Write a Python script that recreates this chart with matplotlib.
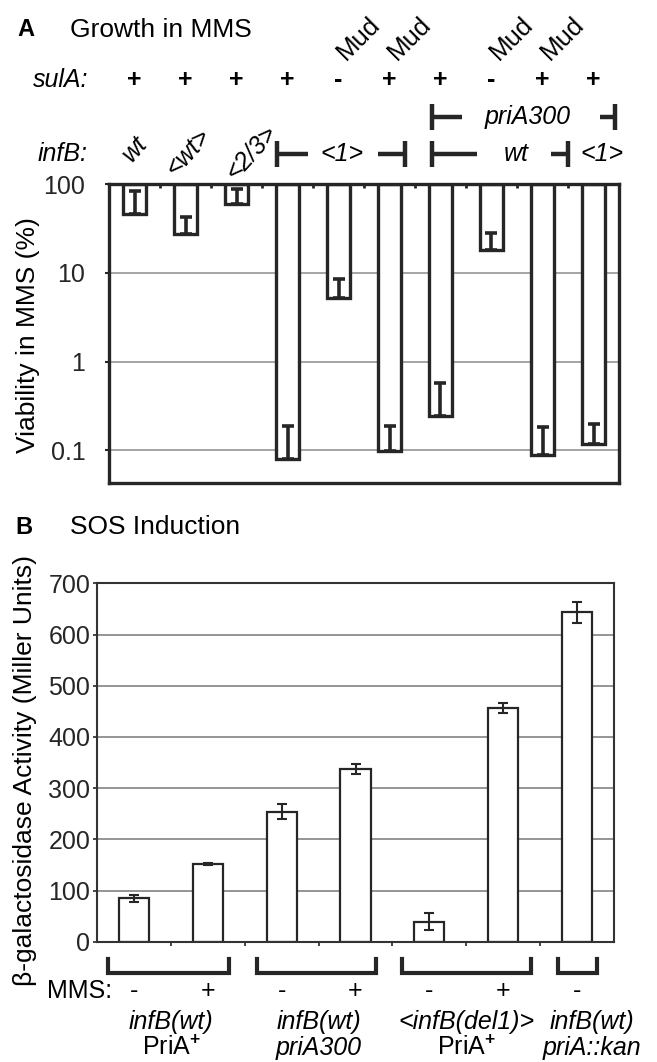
import numpy as np
import matplotlib
matplotlib.use('Agg')
import matplotlib.pyplot as plt
from matplotlib.transforms import blended_transform_factory

plt.rcParams['font.family'] = ['Liberation Sans', 'DejaVu Sans']
plt.rcParams['mathtext.fontset'] = 'custom'
plt.rcParams['mathtext.rm'] = 'Liberation Sans'
plt.rcParams['mathtext.bf'] = 'Liberation Sans:bold'
plt.rcParams['mathtext.it'] = 'Liberation Sans:italic'

FS = 18
DARK = '#262626'
GRID = '#8c8c8c'

# ---- panel A data: viability in MMS (%)
viability = [46, 27, 59, 0.079, 5.2, 0.097, 0.245, 18.2, 0.089, 0.117]
viability_errtop = [83, 42, 87, 0.19, 8.6, 0.19, 0.57, 28, 0.182, 0.196]
sulA = ['+', '+', '+', '+', '-', '+', '+', '-', '+', '+']
mud = [False, False, False, False, True, True, False, True, True, False]
infB_single = [(0, 'wt'), (1, '<wt>'), (2, '<2/3>')]
# bracket: left, right, label, label x, left arm, right arm
infB_brackets = [(2.79, 5.30, '<1>', 4.07, 0.62, 0.53),
                 (5.84, 8.50, 'wt', 7.48, 0.87, 0.33)]
priA_bracket = (5.84, 9.42, 'priA300', 7.70, 0.58, 0.29)
infB_last = (9.17, '<1>')

# ---- panel B data: beta-galactosidase (Miller units)
activity = [85, 152, 254, 337, 39, 457, 643]
activity_err = [6.5, 2, 15, 10, 17, 10, 21]
mms = ['-', '+', '-', '+', '-', '+', '-']
group_line1 = ['infB(wt)', 'infB(wt)', '<infB(del1)>', 'infB(wt)']
group_line2 = [r'PriA$^{\mathbf{+}}$', 'priA300', r'PriA$^{\mathbf{+}}$', 'priA::kan']
group_line2_italic = [False, True, False, True]
group_centers = [0.5, 2.5, 4.5, 6.2]
group_spans = [(-0.35, 1.28), (1.66, 3.28), (3.63, 5.38), (5.75, 6.28)]

fig = plt.figure(figsize=(6.57, 10.62), dpi=100)

# ================= panel A
axA = fig.add_axes([109/657, 1-483.3/1062, 510/657, 299.3/1062])
xa = np.arange(len(viability))
va = np.array(viability)
axA.set_yscale('log')
axA.set_ylim(0.0425, 100)
axA.set_xlim(-0.5, len(viability)-0.5)
for y in [10, 1, 0.1]:
    axA.axhline(y, color=GRID, lw=1.1, zorder=0)
axA.bar(xa, 100-va, bottom=va, width=0.46, facecolor='white',
        edgecolor=DARK, linewidth=2.4, zorder=2)
axA.errorbar(xa, va, yerr=[np.zeros(len(va)), np.array(viability_errtop)-va],
             fmt='none', ecolor=DARK, elinewidth=2.6, capsize=4.5, capthick=2.6, zorder=3)
for s in axA.spines.values():
    s.set_linewidth(2.4)
    s.set_color(DARK)
axA.set_yticks([100, 10, 1, 0.1])
axA.set_yticklabels(['100', '10', '1', '0.1'])
axA.yaxis.set_minor_locator(matplotlib.ticker.NullLocator())
axA.tick_params(axis='y', labelsize=FS, length=3, width=1.5, pad=14, colors=DARK)
axA.xaxis.tick_top()
axA.set_xticks(xa[:-1]+0.5)
axA.set_xticklabels([])
axA.tick_params(axis='x', direction='in', length=3, width=2, colors=DARK)

trA = blended_transform_factory(axA.transData, axA.transAxes)
axA.text(-0.91, 1.347, 'sulA:', transform=trA, ha='right', va='center',
         fontsize=FS, style='italic')
axA.text(-0.91, 1.100, 'infB:', transform=trA, ha='right', va='center',
         fontsize=FS, style='italic')
for i, s in enumerate(sulA):
    axA.text(i, 1.347, s, transform=trA, ha='center', va='center',
             fontsize=FS, fontweight='bold')
    if mud[i]:
        axA.text(i+0.4, 1.488, 'Mud', transform=trA, ha='center', va='center',
                 fontsize=FS+0.5, rotation=45, rotation_mode='anchor')
offs = {0: (0.0, 1.117), 1: (0.05, 1.107), 2: (0.3, 1.104)}
for i, lab in infB_single:
    dx, yy = offs[i]
    axA.text(i+dx, yy, lab, transform=trA, ha='center', va='center',
             fontsize=FS, style='italic', rotation=48, rotation_mode='anchor')


def bracket(ax, tr, spec, y, h, lw=3.2):
    x0, x1, lab, lx, arm_l, arm_r = spec
    kw = dict(transform=tr, color=DARK, lw=lw, clip_on=False, solid_capstyle='butt')
    ax.plot([x0, x0], [y-h, y+h], **kw)
    ax.plot([x0, x0+arm_l], [y, y], **kw)
    ax.plot([x1-arm_r, x1], [y, y], **kw)
    ax.plot([x1, x1], [y-h, y+h], **kw)
    ax.text(lx, y, lab, transform=tr, ha='center', va='center',
            fontsize=FS, style='italic')


for b in infB_brackets:
    bracket(axA, trA, b, 1.100, 0.043)
bracket(axA, trA, priA_bracket, 1.224, 0.042)
axA.text(infB_last[0], 1.100, infB_last[1], transform=trA, ha='center',
         va='center', fontsize=FS, style='italic')

fig.text(17/657, 1-30/1062, 'A', fontsize=FS-1, fontweight='bold', va='center')
fig.text(70/657, 1-30/1062, 'Growth in MMS', fontsize=FS+1, va='center')
fig.text(28/657, 1-335/1062, 'Viability in MMS (%)', fontsize=FS+1,
         rotation=90, ha='center', va='center')

# ================= panel B
axB = fig.add_axes([97.3/657, 1-941.7/1062, 516.4/657, 358.4/1062])
xb = np.arange(len(activity))
axB.set_xlim(-0.5, len(activity)-0.5)
axB.set_ylim(0, 700)
for y in range(100, 700, 100):
    axB.axhline(y, color=GRID, lw=1.3, zorder=0)
axB.bar(xb, activity, width=0.41, facecolor='white', edgecolor=DARK,
        linewidth=1.6, zorder=2)
axB.errorbar(xb, activity, yerr=activity_err, fmt='none', ecolor=DARK,
             elinewidth=1.5, capsize=3.5, capthick=1.5, zorder=3)
for s in axB.spines.values():
    s.set_linewidth(1.5)
    s.set_color('#333333')
axB.set_yticks(range(0, 701, 100))
axB.tick_params(axis='y', labelsize=FS, length=3, width=1.2, pad=2, colors=DARK)
axB.set_xticks(xb[:-1]+0.5)
axB.set_xticklabels([])
axB.tick_params(axis='x', direction='out', length=3, width=1.2, colors=DARK)

trB = blended_transform_factory(axB.transData, axB.transAxes)
for x0, x1 in group_spans:
    axB.plot([x0, x0, x1, x1], [-0.048, -0.087, -0.087, -0.048], transform=trB,
             color=DARK, lw=3.0, clip_on=False, solid_joinstyle='miter')
axB.text(-0.3, -0.1376, 'MMS:', transform=trB, ha='right', va='center', fontsize=FS)
for i, s in enumerate(mms):
    axB.text(i, -0.1376, s, transform=trB, ha='center', va='center', fontsize=FS)
for j in range(len(group_centers)):
    axB.text(group_centers[j], -0.223, group_line1[j], transform=trB,
             ha='center', va='center', fontsize=FS, style='italic')
    axB.text(group_centers[j], -0.2966, group_line2[j], transform=trB,
             ha='center', va='center', fontsize=FS,
             style='italic' if group_line2_italic[j] else 'normal')

fig.text(15/657, 1-527/1062, 'B', fontsize=FS-1, fontweight='bold', va='center')
fig.text(70/657, 1-527/1062, 'SOS Induction', fontsize=FS+1, va='center')
fig.text(25/657, 1-771/1062, 'β-galactosidase Activity (Miller Units)',
         fontsize=FS+1, rotation=90, ha='center', va='center')

fig.savefig('out.png', dpi=100)
